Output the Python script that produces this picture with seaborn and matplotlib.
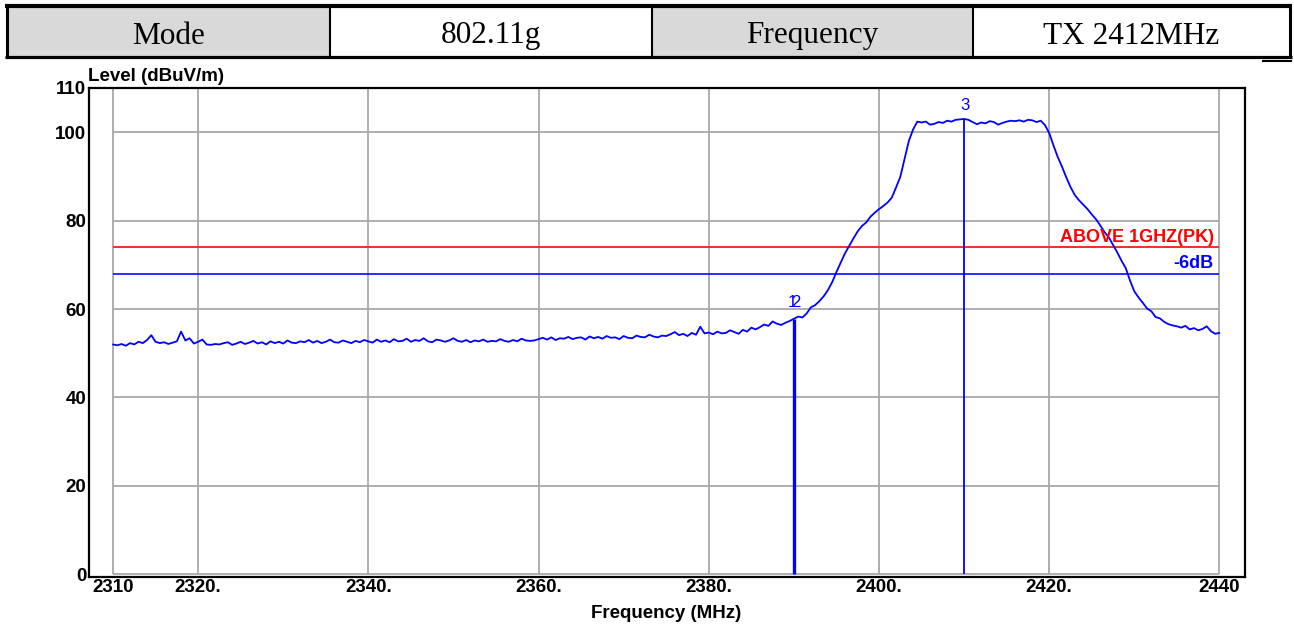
import numpy as np
import pandas as pd
import matplotlib
matplotlib.use("Agg")
import matplotlib.pyplot as plt
from matplotlib.patches import Rectangle
import seaborn as sns

# ---------------- data ----------------
header_cells = ["Mode", "802.11g", "Frequency", "TX 2412MHz"]

freq_start, freq_stop, freq_step = 2310.0, 2440.0, 0.5

level = [
    # 2310 - 2319.5
    52.0, 51.8, 52.1, 51.7, 52.3, 52.0, 52.6, 52.3, 53.0, 54.1,
    52.6, 52.3, 52.5, 52.1, 52.4, 52.7, 54.9, 52.9, 53.4, 52.2,
    # 2320 - 2329.5
    52.6, 53.1, 52.0, 51.9, 52.1, 52.0, 52.3, 52.5, 51.9, 52.2,
    52.6, 52.1, 52.4, 52.8, 52.2, 52.5, 52.0, 52.7, 52.3, 52.6,
    # 2330 - 2339.5
    52.2, 52.9, 52.4, 52.3, 52.7, 52.5, 53.0, 52.4, 52.8, 52.3,
    52.6, 53.1, 52.5, 52.4, 52.9, 52.6, 52.3, 52.8, 52.5, 53.0,
    # 2340 - 2349.5
    52.7, 52.4, 53.1, 52.6, 52.9, 52.5, 53.2, 52.7, 52.8, 53.3,
    52.6, 53.0, 52.8, 53.4, 52.7, 52.5, 53.1, 52.9, 52.6, 52.9,
    # 2350 - 2359.5
    53.4, 52.8, 52.6, 53.0, 52.5, 52.9, 52.7, 53.1, 52.6, 52.8,
    52.7, 53.2, 52.8, 52.6, 53.0, 52.7, 53.3, 52.9, 52.8, 52.9,
    # 2360 - 2369.5
    53.2, 53.5, 53.1, 53.6, 53.0, 53.4, 53.3, 53.7, 53.2, 53.5,
    53.6, 53.1, 53.8, 53.4, 53.7, 53.3, 53.9, 53.5, 53.6, 53.2,
    # 2370 - 2379.5
    53.9, 53.5, 53.4, 54.0, 53.7, 53.6, 54.2, 53.8, 53.6, 54.0,
    53.9, 54.3, 54.8, 54.1, 54.4, 53.9, 54.6, 54.2, 56.0, 54.5,
    # 2380 - 2389.5
    54.7, 54.3, 54.9, 54.5, 54.6, 55.2, 54.8, 54.4, 55.3, 54.9,
    55.8, 55.4, 55.9, 56.5, 56.2, 57.2, 56.7, 56.4, 56.9, 57.3,
    # 2390 - 2399.5
    57.8, 58.3, 58.1, 59.0, 60.4, 60.9, 61.8, 62.9, 64.3, 66.1,
    68.4, 70.5, 72.6, 74.3, 76.0, 77.6, 78.8, 79.6, 80.9, 81.8,
    # 2400 - 2409.5
    82.6, 83.3, 84.1, 85.2, 87.5, 89.9, 93.9, 98.0, 100.6, 102.4,
    102.2, 102.4, 101.7, 101.9, 102.3, 102.1, 102.6, 102.4, 102.8, 102.9,
    # 2410 - 2419.5
    103.0, 102.8, 102.3, 101.8, 102.2, 102.0, 102.5, 102.3, 101.7, 102.1,
    102.4, 102.6, 102.5, 102.7, 102.4, 102.8, 102.7, 102.3, 102.6, 101.6,
    # 2420 - 2429.5
    99.8, 97.0, 94.4, 92.2, 89.8, 87.6, 85.8, 84.6, 83.6, 82.6,
    81.4, 80.3, 78.9, 77.4, 76.2, 74.5, 72.8, 70.9, 69.2, 66.4,
    # 2430 - 2439.5
    64.0, 62.6, 61.4, 60.1, 59.5, 58.2, 57.9, 57.1, 56.6, 56.3,
    56.1, 55.8, 56.2, 55.4, 55.7, 55.2, 55.5, 56.1, 55.0, 54.4,
    # 2440
    54.6,
]

limit_levels = [74.0, 68.0]
limit_labels = ["ABOVE 1GHZ(PK)", "-6dB"]

marker_freqs = [2390.0, 2390.0, 2410.0]
marker_names = ["1", "2", "3"]

xtick_values = [2310, 2320, 2340, 2360, 2380, 2400, 2420, 2440]
xtick_labels = ["2310", "2320.", "2340.", "2360.", "2380.", "2400.", "2420.", "2440"]
ytick_values = [0, 20, 40, 60, 80, 100, 110]
ytick_labels = ["0", "20", "40", "60", "80", "100", "110"]

x_label = "Frequency (MHz)"
y_label = "Level (dBuV/m)"

# ---------------- figure ----------------
sns.set_style("white")
plt.rcParams["font.family"] = ["Liberation Sans", "DejaVu Sans"]
plt.rcParams["text.color"] = "black"
plt.rcParams["xtick.color"] = "black"
plt.rcParams["ytick.color"] = "black"

W, H = 1294, 628
fig = plt.figure(figsize=(W / 100, H / 100), dpi=100)

# header table drawn in pixel coordinates
axt = fig.add_axes([0, 0, 1, 1], zorder=0)
axt.set_xlim(0, W)
axt.set_ylim(H, 0)
axt.axis("off")
edges = [7, 330, 652, 973, 1290]
for i, txt in enumerate(header_cells):
    x0, x1 = edges[i], edges[i + 1]
    fc = "#d9d9d9" if i % 2 == 0 else "white"
    axt.add_patch(Rectangle((x0, 6), x1 - x0, 51, facecolor=fc, edgecolor="none"))
    axt.text((x0 + x1) / 2, 43.5, txt, ha="center", va="baseline",
             fontsize=22.5, family=["Liberation Serif", "DejaVu Serif"], color="black")
axt.plot([5, 1292], [6, 6], color="black", lw=3.0, solid_capstyle="butt")
axt.plot([5, 1292], [57.3, 57.3], color="black", lw=2.3, solid_capstyle="butt")
for xe in edges:
    lw = 2.2 if xe in (7, 1290) else 1.5
    axt.plot([xe, xe], [6, 57.3], color="black", lw=lw, solid_capstyle="butt")
axt.plot([1262, 1292], [60.5, 60.5], color="black", lw=1.5, solid_capstyle="butt")

# main chart
ax = fig.add_axes([89 / W, 1 - 577 / H, (1245 - 89) / W, (577 - 88) / H], zorder=1)
ax.set_xlim(2307.18, 2443.0)
ax.set_ylim(-0.6, 110)

grid_c = "#a8a8a8"
ax.vlines(xtick_values, 0, 110, color=grid_c, lw=1.3, zorder=1)
ax.hlines(ytick_values[:-1], xtick_values[0], xtick_values[-1], color=grid_c, lw=1.3, zorder=1)

freq = np.linspace(freq_start, freq_stop, len(level))
df = pd.DataFrame({"Frequency": freq, "Level": level})
sns.lineplot(data=df, x="Frequency", y="Level", ax=ax, color="#0000ff",
             lw=1.3, zorder=4, estimator=None, sort=False)

# limit lines
ax.hlines(limit_levels[0], xtick_values[0], xtick_values[-1], color="#ff2a2a", lw=1.4, zorder=3)
ax.hlines(limit_levels[1], xtick_values[0], xtick_values[-1], color="#1a1aff", lw=1.3, zorder=3)
ax.text(2439.3, 75.2, limit_labels[0], ha="right", va="baseline", color="#ff0000",
        fontsize=13, fontweight="bold", zorder=5)
ax.text(2439.3, 69.2, limit_labels[1], ha="right", va="baseline", color="#0000ff",
        fontsize=13, fontweight="bold", zorder=5)

# markers
m_levels = np.interp(marker_freqs, freq, level)
ax.vlines(marker_freqs[0], 0, m_levels[0], color="#0000ff", lw=2.4, zorder=3)
ax.vlines(marker_freqs[2], 0, m_levels[2], color="#0000ff", lw=1.3, zorder=3)
ax.text(marker_freqs[0] - 0.15, m_levels[0] + 3.6, marker_names[0], ha="center", va="center",
        color="#0000ff", fontsize=12, zorder=5)
ax.text(marker_freqs[1] + 0.2, m_levels[1] + 3.6, marker_names[1], ha="center", va="center",
        color="#0000ff", fontsize=12, zorder=5)
ax.text(marker_freqs[2] + 0.1, m_levels[2] + 3.0, marker_names[2], ha="center", va="center",
        color="#0000ff", fontsize=12, zorder=5)

# axes styling
ax.set_xticks(xtick_values)
ax.set_xticklabels(xtick_labels, fontsize=13.5, fontweight="bold", color="black")
ax.set_yticks(ytick_values)
ax.set_yticklabels(ytick_labels, fontsize=13.5, fontweight="bold", color="black")
ax.tick_params(axis="x", length=0, pad=1.5)
ax.tick_params(axis="y", length=0, pad=2)
ax.set_xlabel("")
ax.set_ylabel("")
for s in ax.spines.values():
    s.set_visible(True)
    s.set_color("black")
    s.set_linewidth(1.6)

fig.text(666 / W, 1 - 614 / H, x_label, ha="center", va="center",
         fontsize=13.5, fontweight="bold", color="black")
fig.text(88 / W, 1 - 80.7 / H, y_label, ha="left", va="baseline",
         fontsize=13.5, fontweight="bold", color="black")

fig.savefig("out.png", dpi=100, facecolor="white")
